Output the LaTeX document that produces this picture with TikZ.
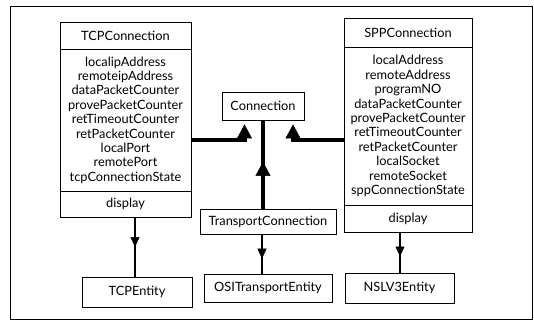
\documentclass[tikz,border=0pt]{standalone}
\usepackage{fontspec}
\setmainfont{Lato}
\usetikzlibrary{arrows.meta,decorations.markings}
\begin{document}
\begin{tikzpicture}[x=1pt,y=-1pt,
  box/.style={draw, line width=0.9pt, inner sep=0pt, align=center,
    font=\fontsize{12.8}{14.4}\selectfont},
  inh/.style={line width=4pt, line join=miter,
    -{Triangle[width=15pt,length=14pt,line width=0.5pt]}},
  inhmid/.style={line width=4pt, postaction=decorate,
    decoration={markings, mark=at position #1 with
      {\arrow{Triangle[width=15pt,length=14pt,line width=0.5pt]}}}},
  dep/.style={line width=1.2pt, postaction=decorate,
    decoration={markings, mark=at position #1 with
      {\arrow{Triangle[width=9pt,length=10pt,line width=0.5pt]}}}}
]
\useasboundingbox (0,0) rectangle (534,323);
\draw[line width=0.8pt] (10,6) rectangle (532,319);

% TCPConnection class
\node[box, minimum width=131, minimum height=27] (tcpT) at (125.5,35.5) {TCPConnection};
\node[box, minimum width=131, minimum height=142] (tcpA) at (125.5,120)
  {localipAddress\\remoteipAddress\\dataPacketCounter\\provePacketCounter\\retTimeoutCounter\\retPacketCounter\\localPort\\remotePort\\tcpConnectionState};
\node[box, minimum width=131, minimum height=26] (tcpD) at (125.5,204) {display};

% SPPConnection class
\node[box, minimum width=128, minimum height=29] (sppT) at (408,32.5) {SPPConnection};
\node[box, minimum width=128, minimum height=158] (sppA) at (408,126)
  {localAddress\\remoteAddress\\programNO\\dataPacketCounter\\provePacketCounter\\retTimeoutCounter\\retPacketCounter\\localSocket\\remoteSocket\\sppConnectionState};
\node[box, minimum width=128, minimum height=27] (sppD) at (408,218.5) {display};

% other classes
\node[box, minimum width=82, minimum height=28] (conn) at (263,106) {Connection};
\node[box, minimum width=136, minimum height=25] (trans) at (268,221.5) {TransportConnection};
\node[box, minimum width=128, minimum height=28] (osi) at (268,288) {OSITransportEntity};
\node[box, minimum width=110, minimum height=30] (tcpE) at (137,292) {TCPEntity};
\node[box, minimum width=109, minimum height=30] (nsl) at (399.5,288) {NSLV3Entity};

\coordinate (y140) at (0,140);
\coordinate (x263) at (263,0);
\coordinate (x135) at (135,0);
\coordinate (x262) at (262,0);
\coordinate (x400) at (400,0);

% inheritance
\draw[inh] (tcpA.east |- y140) -| ([shift={(-18.5,4)}]conn.south);
\draw[inh] (sppA.west |- y140) -| ([shift={(30,4)}]conn.south);
\draw[inhmid=0.53] (trans.north -| x263) -- (conn.south -| x263);

% dependencies
\draw[dep=0.5] (tcpD.south -| x135) -- (tcpE.north -| x135);
\draw[dep=0.62] (trans.south -| x262) -- (osi.north -| x262);
\draw[dep=0.6] (sppD.south -| x400) -- (nsl.north -| x400);
\end{tikzpicture}
\end{document}
